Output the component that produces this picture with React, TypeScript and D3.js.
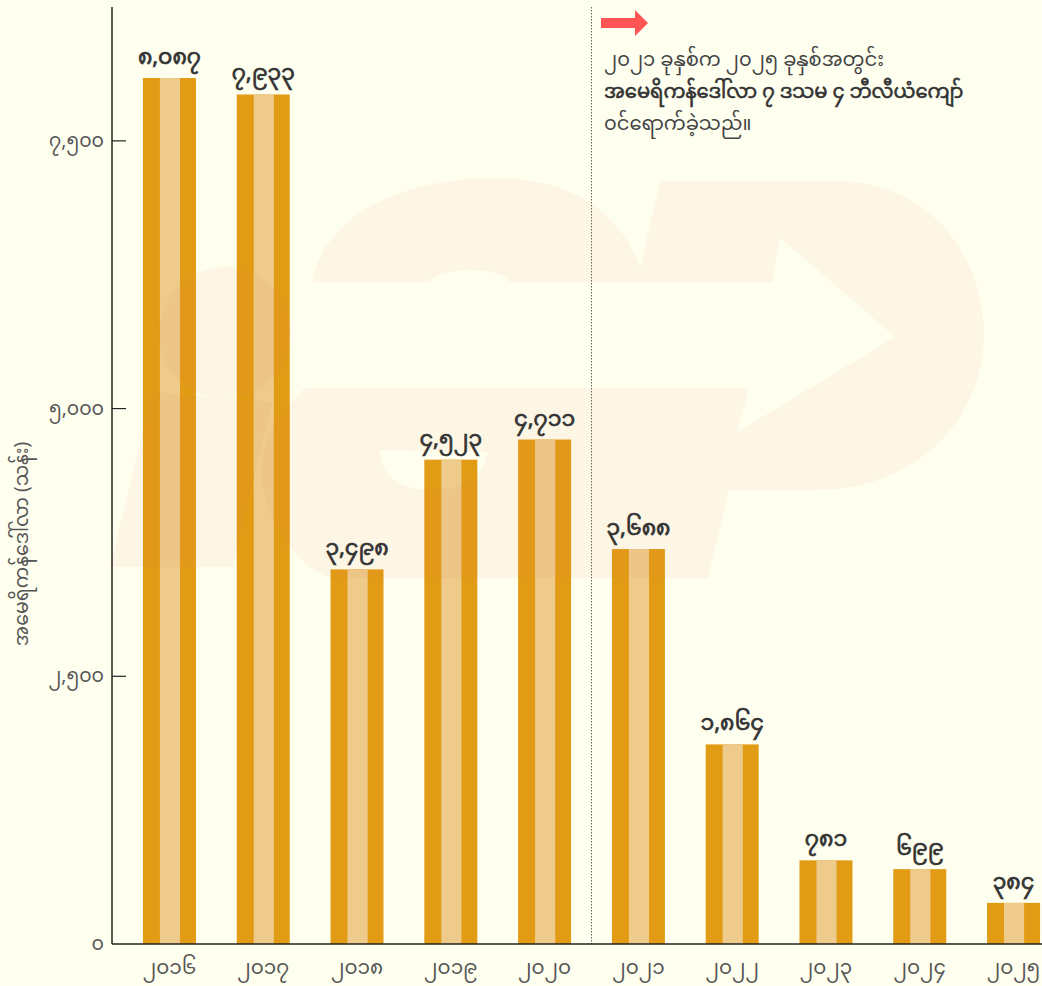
import { useEffect, useRef } from 'react'
import * as d3 from 'd3'

const W = 1042, H = 986
const M = { top: 7, right: 0, bottom: 42, left: 112 }

const YEARS = ['၂၀၁၆', '၂၀၁၇', '၂၀၁၈', '၂၀၁၉', '၂၀၂၀', '၂၀၂၁', '၂၀၂၂', '၂၀၂၃', '၂၀၂၄', '၂၀၂၅']
const VALUES = [8087, 7933, 3498, 4523, 4711, 3688, 1864, 781, 699, 384]
const VALUE_LABELS = ['၈,၀၈၇', '၇,၉၃၃', '၃,၄၉၈', '၄,၅၂၃', '၄,၇၁၁', '၃,၆၈၈', '၁,၈၆၄', '၇၈၁', '၆၉၉', '၃၈၄']
const Y_TICKS = [0, 2500, 5000, 7500]
const Y_TICK_LABELS = ['၀', '၂,၅၀၀', '၅,၀၀၀', '၇,၅၀၀']
const Y_TITLE = 'အမေရိကန်ဒေါ်လာ (သန်း)'
const NOTE_LINES = [
  '၂၀၂၁ ခုနှစ်က ၂၀၂၅ ခုနှစ်အတွင်း',
  'အမေရိကန်ဒေါ်လာ ၇ ဒသမ ၄ ဘီလီယံကျော်',
  '၀င်ရောက်ခဲ့သည်။',
]

const BG = '#fffff0'
const DARK = '#e29b14'
const LIGHT = '#eecb8b'
const FONT = "'Noto Sans Myanmar', 'Padauk', 'Myanmar Text', 'Noto Sans', sans-serif"

// faint logo watermark behind the plot
const WM_OUTER = [
  'M312,282 C325,215 400,178 496,178 C570,178 622,212 640,268 L660,181 L835,181',
  'C930,181 984,255 984,335 C984,420 915,490 818,490 L729,490 L708,578 L330,578',
  'C285,560 258,505 262,460 C266,420 300,395 312,380 Z',
].join(' ')
const WM_ARROW = 'M300,282 L430,282 C440,266 500,266 510,282 L772,282 L780,238 L895,337 L737,432 L749,388 L300,388 Z'
const WM_HOLE = 'M380,450 L487,452 C485,475 465,490 433,490 C400,490 380,475 380,450 Z'

export default function App() {
  const svgRef = useRef<SVGSVGElement>(null)

  useEffect(() => {
    const svg = d3.select(svgRef.current)
    svg.selectAll('*').remove()

    const x = d3.scaleBand<string>()
      .domain(YEARS)
      .range([M.left, 1071])
      .paddingInner(0.435)
      .paddingOuter(0.33)
    const y = d3.scaleLinear().domain([0, 8750]).range([H - M.bottom, M.top])
    const bw = x.bandwidth()

    svg.append('rect').attr('width', W).attr('height', H).attr('fill', BG)

    // bars with a light centre stripe
    const bars = svg.append('g')
    YEARS.forEach((yr, i) => {
      const x0 = x(yr)!
      const top = y(VALUES[i])
      const h = y(0) - top
      bars.append('rect').attr('x', x0).attr('y', top).attr('width', bw).attr('height', h).attr('fill', DARK)
      bars.append('rect').attr('x', x0 + bw * 0.32).attr('y', top).attr('width', bw * 0.38).attr('height', h).attr('fill', LIGHT)
    })

    // watermark
    const defs = svg.append('defs')
    const mask = defs.append('mask').attr('id', 'wm-mask')
    mask.append('rect').attr('width', W).attr('height', H).attr('fill', 'white')
    mask.append('path').attr('d', WM_ARROW).attr('fill', 'black')
    mask.append('path').attr('d', WM_HOLE).attr('fill', 'black')
    const wm = svg.append('g').attr('mask', 'url(#wm-mask)').attr('opacity', 0.07).attr('fill', '#eb8a60')
    wm.append('path').attr('d', WM_OUTER)
    wm.append('circle').attr('cx', 225).attr('cy', 333).attr('r', 66)
    wm.append('path').attr('d', 'M110,567 L152,392 L272,402 L233,567 Z')

    // value labels (medium weight: regular face with a thin stroke)
    svg.append('g')
      .selectAll('text')
      .data(YEARS)
      .join('text')
      .attr('x', d => x(d)! + bw / 2)
      .attr('y', (d, i) => y(VALUES[i]) - 14)
      .attr('text-anchor', 'middle')
      .attr('font-family', FONT)
      .attr('font-size', 22)
      .attr('fill', '#333')
      .attr('stroke', '#333')
      .attr('stroke-width', 0.7)
      .text((d, i) => VALUE_LABELS[i])

    // divider between 2020 and 2021
    const xDiv = (x('၂၀၂၀')! + x('၂၀၂၁')! + bw) / 2
    svg.append('line')
      .attr('x1', xDiv).attr('x2', xDiv)
      .attr('y1', M.top).attr('y2', y(0))
      .attr('stroke', '#666').attr('stroke-width', 1).attr('stroke-dasharray', '1.5,1.5')

    // axes
    svg.append('line')
      .attr('x1', M.left).attr('x2', W).attr('y1', y(0)).attr('y2', y(0))
      .attr('stroke', '#222').attr('stroke-width', 1.5)
    svg.append('line')
      .attr('x1', M.left).attr('x2', M.left).attr('y1', M.top).attr('y2', y(0))
      .attr('stroke', '#222').attr('stroke-width', 1.5)

    const yt = svg.append('g')
    Y_TICKS.forEach((t, i) => {
      if (t > 0) {
        yt.append('line')
          .attr('x1', M.left).attr('x2', M.left + 14).attr('y1', y(t)).attr('y2', y(t))
          .attr('stroke', '#222').attr('stroke-width', 1.2)
      }
      yt.append('text')
        .attr('x', M.left - 8).attr('y', y(t))
        .attr('dy', '0.32em')
        .attr('text-anchor', 'end')
        .attr('font-family', FONT).attr('font-size', 19).attr('fill', '#555')
        .text(Y_TICK_LABELS[i])
    })

    svg.append('g')
      .selectAll('text')
      .data(YEARS)
      .join('text')
      .attr('x', d => x(d)! + bw / 2)
      .attr('y', y(0) + 30)
      .attr('text-anchor', 'middle')
      .attr('font-family', FONT).attr('font-size', 20).attr('fill', '#555')
      .text(d => d)

    svg.append('text')
      .attr('transform', 'translate(28,544) rotate(-90)')
      .attr('text-anchor', 'middle')
      .attr('font-family', FONT).attr('font-size', 19).attr('fill', '#555')
      .text(Y_TITLE)

    // annotation
    svg.append('path')
      .attr('d', 'M601,18 L635,18 L635,10 L648,23 L635,36 L635,28 L601,28 Z')
      .attr('fill', '#ff5555')
    const note = svg.append('text')
      .attr('font-family', FONT).attr('font-size', 19.5).attr('fill', '#444')
    NOTE_LINES.forEach((ln, i) => {
      note.append('tspan')
        .attr('x', 604).attr('y', 66 + i * 32)
        .attr('stroke', i === 1 ? '#333' : 'none')
        .attr('stroke-width', i === 1 ? 0.6 : 0)
        .attr('fill', i === 1 ? '#333' : '#444')
        .text(ln)
    })
  }, [])

  return (
    <svg
      ref={svgRef}
      width={W}
      height={H}
      viewBox={`0 0 ${W} ${H}`}
      style={{ position: 'absolute', left: 0, top: 0, display: 'block' }}
    />
  )
}
